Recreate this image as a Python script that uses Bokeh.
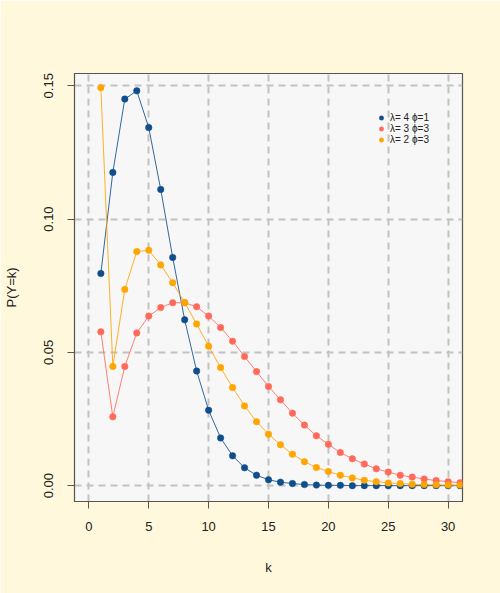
from bokeh.plotting import figure
from bokeh.models import Range1d, FixedTicker, Legend, LegendItem
from bokeh.embed import file_html
from bokeh.resources import INLINE

# ---- data ----
k = list(range(1, 32))

p_l4_f1 = [0.0796, 0.1175, 0.1450, 0.1481, 0.1343, 0.1111, 0.0856, 0.0622, 0.0430, 0.0283,
           0.0179, 0.0112, 0.0067, 0.0039, 0.0022, 0.0013, 0.0008, 0.0004, 0.0002, 0.0001,
           0.0001, 0.0000, 0.0000, 0.0000, 0.0000, 0.0000, 0.0000, 0.0000, 0.0000, 0.0000, 0.0000]

p_l3_f3 = [0.0577, 0.0258, 0.0447, 0.0573, 0.0636, 0.0668, 0.0686, 0.0686, 0.0671, 0.0636,
           0.0593, 0.0542, 0.0484, 0.0428, 0.0372, 0.0322, 0.0272, 0.0227, 0.0187, 0.0155,
           0.0124, 0.0101, 0.0081, 0.0063, 0.0051, 0.0039, 0.0032, 0.0025, 0.0019, 0.0015, 0.0011]

p_l2_f3 = [0.1493, 0.0447, 0.0736, 0.0878, 0.0883, 0.0828, 0.0761, 0.0687, 0.0606, 0.0523,
           0.0443, 0.0368, 0.0299, 0.0240, 0.0193, 0.0153, 0.0118, 0.0090, 0.0068, 0.0053,
           0.0039, 0.0029, 0.0020, 0.0015, 0.0010, 0.0008, 0.0005, 0.0004, 0.0003, 0.0002, 0.0002]

series_labels = ["λ= 4 ϕ=1", "λ= 3 ϕ=3", "λ= 2 ϕ=3"]
series_colors = ["#104E8B", "#FF6A5A", "#FFA500"]

x_ticks = [0, 5, 10, 15, 20, 25, 30]
y_ticks = [0.0, 0.05, 0.10, 0.15]
y_tick_labels = ["0.00", "0.05", "0.10", "0.15"]

FONT = "Liberation Sans"
BOX = "#555555"

p = figure(width=500, height=593, output_backend="svg", toolbar_location=None,
           x_range=Range1d(-1.2, 31.2), y_range=Range1d(-0.00595, 0.1546),
           min_border_left=74, min_border_right=38, min_border_top=73, min_border_bottom=92)

p.border_fill_color = "#FFF8DC"
p.background_fill_color = "#F7F7F7"
p.outline_line_color = BOX
p.outline_line_width = 1.2

# grid
p.xgrid.ticker = FixedTicker(ticks=x_ticks)
p.ygrid.ticker = FixedTicker(ticks=y_ticks)
for g in (p.xgrid, p.ygrid):
    g.grid_line_color = "#C2C2C2"
    g.grid_line_width = 2
    g.grid_line_dash = "7 5"

# axes
p.xaxis.ticker = FixedTicker(ticks=x_ticks)
p.yaxis.ticker = FixedTicker(ticks=y_ticks)
p.yaxis.major_label_overrides = {t: s for t, s in zip(y_ticks, y_tick_labels)}
p.yaxis.major_label_orientation = "vertical"
p.xaxis.axis_label = "k"
p.yaxis.axis_label = "P(Y=k)"
for ax in (p.xaxis, p.yaxis):
    ax.axis_line_color = BOX
    ax.major_tick_line_color = BOX
    ax.major_tick_out = 7
    ax.major_tick_in = 0
    ax.minor_tick_line_color = None
    ax.major_label_text_font = FONT
    ax.major_label_text_font_size = "13px"
    ax.major_label_text_color = "#222222"
    ax.axis_label_text_font = FONT
    ax.axis_label_text_font_size = "13px"
    ax.axis_label_text_font_style = "normal"
    ax.axis_label_text_color = "#222222"
p.xaxis.major_label_standoff = 13
p.xaxis.axis_label_standoff = 26
p.yaxis.major_label_standoff = 14
p.yaxis.axis_label_standoff = 23

items = []
for ys, lab, col in zip([p_l4_f1, p_l3_f3, p_l2_f3], series_labels, series_colors):
    ln = p.line(k, ys, line_color=col, line_width=1, line_alpha=0.85)
    sc = p.scatter(k, ys, size=6.5, fill_color=col, line_color=col, line_width=0.5)
    items.append(LegendItem(label=lab, renderers=[sc]))

legend = Legend(items=items, location=(300, 356), orientation="vertical",
                background_fill_alpha=0, border_line_alpha=0,
                padding=0, margin=0, spacing=0,
                glyph_width=14, glyph_height=11, label_height=11,
                label_standoff=2, label_text_line_height=0.9,
                label_text_font=FONT, label_text_font_size="10px",
                label_text_color="#222222")
p.add_layout(legend, "center")

open("out.html", "w").write(file_html(p, INLINE))
